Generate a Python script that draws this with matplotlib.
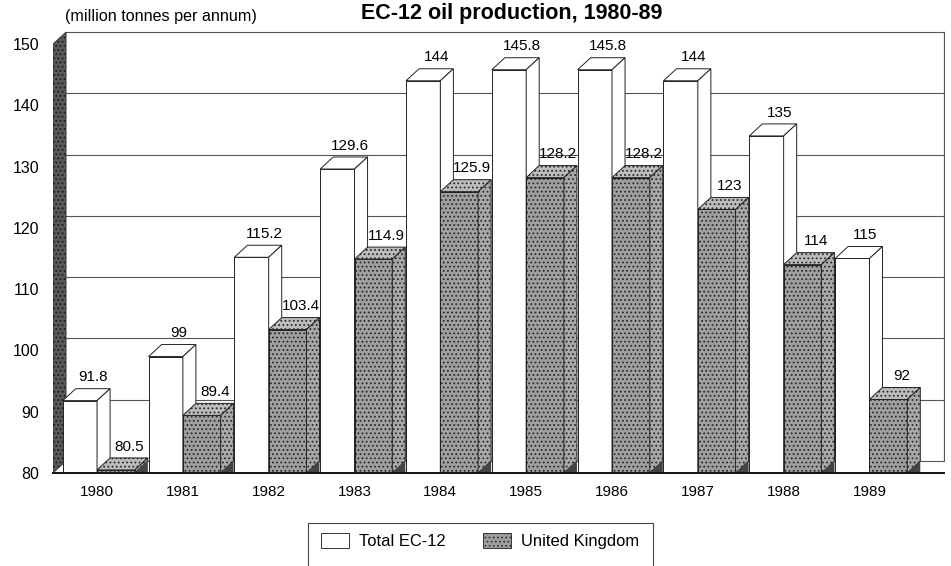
import matplotlib.pyplot as plt
from matplotlib.patches import Polygon, Rectangle, Patch
import matplotlib as mpl

plt.rcParams['font.family'] = ['Liberation Sans', 'DejaVu Sans']
mpl.rcParams['hatch.linewidth'] = 0.8

years = ['1980', '1981', '1982', '1983', '1984', '1985', '1986', '1987', '1988', '1989']
total_ec12 = [91.8, 99, 115.2, 129.6, 144, 145.8, 145.8, 144, 135, 115]
united_kingdom = [80.5, 89.4, 103.4, 114.9, 125.9, 128.2, 128.2, 123, 114, 92]
value_labels_ec = ['91.8', '99', '115.2', '129.6', '144', '145.8', '145.8', '144', '135', '115']
value_labels_uk = ['80.5', '89.4', '103.4', '114.9', '125.9', '128.2', '128.2', '123', '114', '92']
yticks = [80, 90, 100, 110, 120, 130, 140, 150]

# 3d look: depth offsets in data units
DX = 0.152
DY = 1.96
W_EC = 0.40
W_UK = 0.44
BASE = 80

fig = plt.figure(figsize=(9.51, 5.66), dpi=100)
ax = fig.add_axes([53 / 951, 1 - 473 / 566, (945 - 53) / 951, (473 - 25) / 566])
ax.set_xlim(-0.513, 9.88)
ax.set_ylim(BASE, 153.1)
for s in ax.spines.values():
    s.set_visible(False)

xl = -0.513
xr = 9.88 - 0.01

# back gridlines
for v in yticks:
    ax.plot([xl + DX, xr], [v + DY, v + DY], color='#555555', lw=0.8, zorder=1)
ax.plot([xr, xr], [BASE + DY, 150 + DY], color='#555555', lw=0.9, zorder=1)

# left wall
wall = Polygon([(xl, BASE), (xl, 150), (xl + DX, 150 + DY), (xl + DX, BASE + DY)],
               closed=True, facecolor='#5a5a5a', edgecolor='#1a1a1a', hatch='....', lw=0, zorder=2)
ax.add_patch(wall)
ax.add_patch(Polygon(wall.get_xy(), closed=True, fill=False, edgecolor='#333333', lw=0.6, zorder=2))


def draw_bar(x0, w, h, face, top, side, hatch, z):
    front = [(x0, BASE), (x0 + w, BASE), (x0 + w, h), (x0, h)]
    topf = [(x0, h), (x0 + w, h), (x0 + w + DX, h + DY), (x0 + DX, h + DY)]
    sidef = [(x0 + w, BASE), (x0 + w + DX, BASE + DY), (x0 + w + DX, h + DY), (x0 + w, h)]
    for pts, fc in [(front, face), (topf, top), (sidef, side)]:
        ax.add_patch(Polygon(pts, closed=True, facecolor=fc, edgecolor='#2a2a2a' if hatch else fc,
                             hatch=hatch, lw=0, zorder=z))
        ax.add_patch(Polygon(pts, closed=True, fill=False, edgecolor='#222222', lw=0.7, zorder=z))
    if hatch:
        # darker base of the side face
        ax.add_patch(Polygon([(x0 + w, BASE), (x0 + w + DX, BASE + DY), (x0 + w + DX, BASE)],
                             closed=True, facecolor='#444444', lw=0, zorder=z))


z = 3
for i in range(len(years)):
    draw_bar(i - W_EC, W_EC, total_ec12[i], 'white', 'white', 'white', None, z)
    ax.text(i - W_EC / 2 + DX, total_ec12[i] + DY + 0.7, value_labels_ec[i],
            ha='center', va='bottom', fontsize=11, zorder=50)
    z += 1
    draw_bar(i, W_UK, united_kingdom[i], '#a0a0a0', '#bdbdbd', '#a8a8a8', '....', z)
    ax.text(i + W_UK / 2 + DX, united_kingdom[i] + DY + 0.7, value_labels_uk[i],
            ha='center', va='bottom', fontsize=11, zorder=50)
    z += 1

# floor line
ax.plot([xl, xr], [BASE, BASE], color='#111111', lw=1.4, zorder=40, clip_on=False)

ax.set_xticks(range(len(years)))
ax.set_xticklabels(years, fontsize=11)
ax.set_yticks(yticks)
ax.set_yticklabels([str(v) for v in yticks], fontsize=11.5)
ax.tick_params(length=0)
ax.tick_params(axis='x', pad=9)
ax.tick_params(axis='y', pad=10)

fig.text(65 / 951, 1 - 17 / 566, '(million tonnes per annum)', fontsize=11.6, va='center', ha='left')
fig.text(512 / 951, 1 - 14 / 566, 'EC-12 oil production, 1980-89', fontsize=15.5,
         fontweight='bold', va='center', ha='center')

# legend box, runs off the bottom edge as in the scan
fig.add_artist(Rectangle((308 / 951, -0.02), (653 - 308) / 951, 0.02 + (566 - 523) / 566,
                         transform=fig.transFigure, fill=False, edgecolor='#444444', lw=0.8))
handles = [Patch(facecolor='white', edgecolor='#333333', lw=0.7, label='Total EC-12'),
           Patch(facecolor='#a0a0a0', edgecolor='#333333', hatch='....', lw=0.7, label='United Kingdom')]
leg = fig.legend(handles=handles, ncol=2, loc='center', bbox_to_anchor=(480 / 951, 1 - 541 / 566),
                 fontsize=11.9, frameon=False, columnspacing=2.3, handlelength=1.7,
                 handleheight=1.0, handletextpad=0.6)

fig.savefig('out.png', dpi=100)
